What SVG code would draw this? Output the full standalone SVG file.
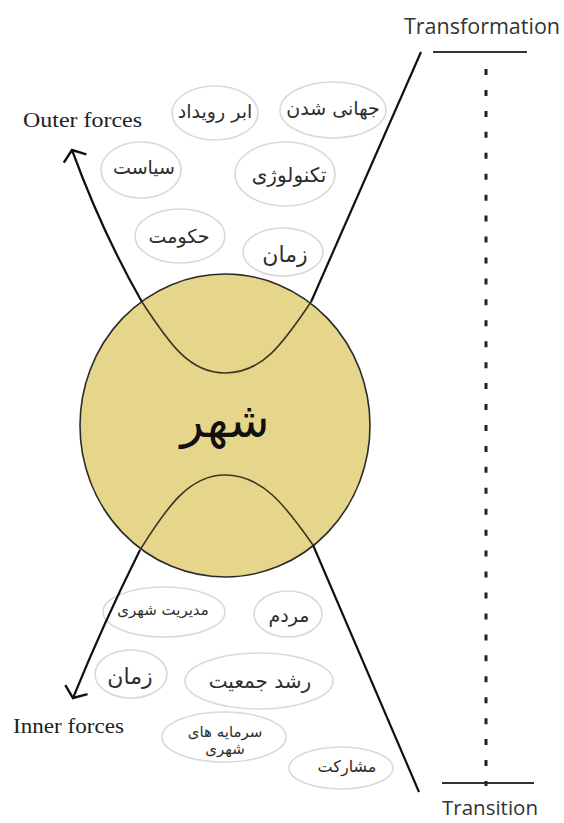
<svg xmlns="http://www.w3.org/2000/svg" width="564" height="823" viewBox="0 0 564 823">
<style>
.bub{fill:#fff;stroke:#d9d9d9;stroke-width:1.6}
.fa{font-family:"DejaVu Sans",sans-serif;fill:#2e2e2e;text-anchor:middle;dominant-baseline:central}
.en{font-family:"Liberation Serif",serif;fill:#222;font-size:22px}
.lbl{font-family:"Open Sans","DejaVu Sans",sans-serif;fill:#333;font-size:21px;text-anchor:middle}
.ln{fill:none;stroke:#111;stroke-width:2.2}
.inner{fill:none;stroke:#3a3520;stroke-width:1.6}
</style>
<defs>
<marker id="arr" markerUnits="userSpaceOnUse" markerWidth="30" markerHeight="30" refX="0" refY="0" viewBox="-15 -15 30 30" orient="auto" overflow="visible">
<path d="M-9,-12 L0,0 L-9,12" fill="none" stroke="#111" stroke-width="2.4" stroke-linejoin="miter"/>
</marker>
</defs>
<rect width="564" height="823" fill="#fff"/>

<g id="outer-bubbles">
<g id="n-jahani"><ellipse class="bub" cx="333" cy="110" rx="53" ry="28"/><text class="fa" x="333" y="108" font-size="19">جهانی شدن</text></g>
<g id="n-abar"><ellipse class="bub" cx="215" cy="113" rx="43" ry="27"/><text class="fa" x="215" y="111" font-size="19">ابر رویداد</text></g>
<g id="n-siasat"><ellipse class="bub" cx="141" cy="170" rx="40" ry="28"/><text class="fa" x="144" y="167" font-size="19">سیاست</text></g>
<g id="n-tech"><ellipse class="bub" cx="285" cy="174" rx="50" ry="32"/><text class="fa" x="289" y="175" font-size="20">تکنولوژی</text></g>
<g id="n-hokumat"><ellipse class="bub" cx="180" cy="236" rx="45" ry="27"/><text class="fa" x="179" y="236" font-size="19">حکومت</text></g>
<g id="n-zaman1"><ellipse class="bub" cx="283" cy="252" rx="40" ry="24"/><text class="fa" x="285" y="254" font-size="22">زمان</text></g>
</g>

<g id="n-city">
<ellipse cx="225" cy="425.5" rx="145" ry="151.5" fill="#E6D68C" stroke="#2a2a2a" stroke-width="1.6"/>
<text class="fa" x="225" y="420" font-size="48" style="fill:#111">شهر</text>
</g>

<g id="inner-bubbles">
<g id="n-modiriat"><ellipse class="bub" cx="164" cy="612" rx="61" ry="25"/><text class="fa" x="163" y="610" font-size="15">مدیریت شهری</text></g>
<g id="n-mardom"><ellipse class="bub" cx="288" cy="614" rx="34" ry="23"/><text class="fa" x="289" y="615" font-size="19">مردم</text></g>
<g id="n-zaman2"><ellipse class="bub" cx="131" cy="674" rx="36" ry="24"/><text class="fa" x="130" y="676" font-size="22">زمان</text></g>
<g id="n-roshd"><ellipse class="bub" cx="259" cy="681" rx="74" ry="28"/><text class="fa" x="260" y="681" font-size="20">رشد جمعیت</text></g>
<g id="n-sarmaye"><ellipse class="bub" cx="224" cy="737" rx="62" ry="25"/><text class="fa" x="225" y="732" font-size="15">سرمایه های</text><text class="fa" x="225" y="749" font-size="15">شهری</text></g>
<g id="n-mosharekat"><ellipse class="bub" cx="341" cy="768" rx="52" ry="21"/><text class="fa" x="347" y="766" font-size="16">مشارکت</text></g>
</g>

<g id="connectors">
<path class="ln" d="M142,302 Q102,232 72,150" marker-end="url(#arr)"/>
<path class="ln" d="M140,550 Q104,622 73,698" marker-end="url(#arr)"/>
<path class="ln" d="M311,302 L421,52"/>
<path class="ln" d="M313,545 L419,792"/>
<path class="inner" d="M142,302 C170,345 190,373 225,373 C262,373 282,345 311,302"/>
<path class="inner" d="M140,550 C168,505 190,475 225,475 C262,475 285,505 313,545"/>
</g>

<g id="scale">
<line x1="433" y1="52" x2="527" y2="52" stroke="#333" stroke-width="2.2"/>
<line x1="442" y1="783" x2="534" y2="783" stroke="#333" stroke-width="2.2"/>
<line x1="486" y1="69" x2="486" y2="786" stroke="#222" stroke-width="3" stroke-dasharray="6 14.94"/>
<text class="lbl" x="482" y="34" font-size="21.5" style="font-size:21.5px">Transformation</text>
<text class="lbl" x="490" y="815" style="font-size:20.5px">Transition</text>
</g>

<g id="labels">
<text class="en" x="23" y="127" textLength="119" lengthAdjust="spacingAndGlyphs">Outer forces</text>
<text class="en" x="13" y="733" textLength="111" lengthAdjust="spacingAndGlyphs">Inner forces</text>
</g>
</svg>
